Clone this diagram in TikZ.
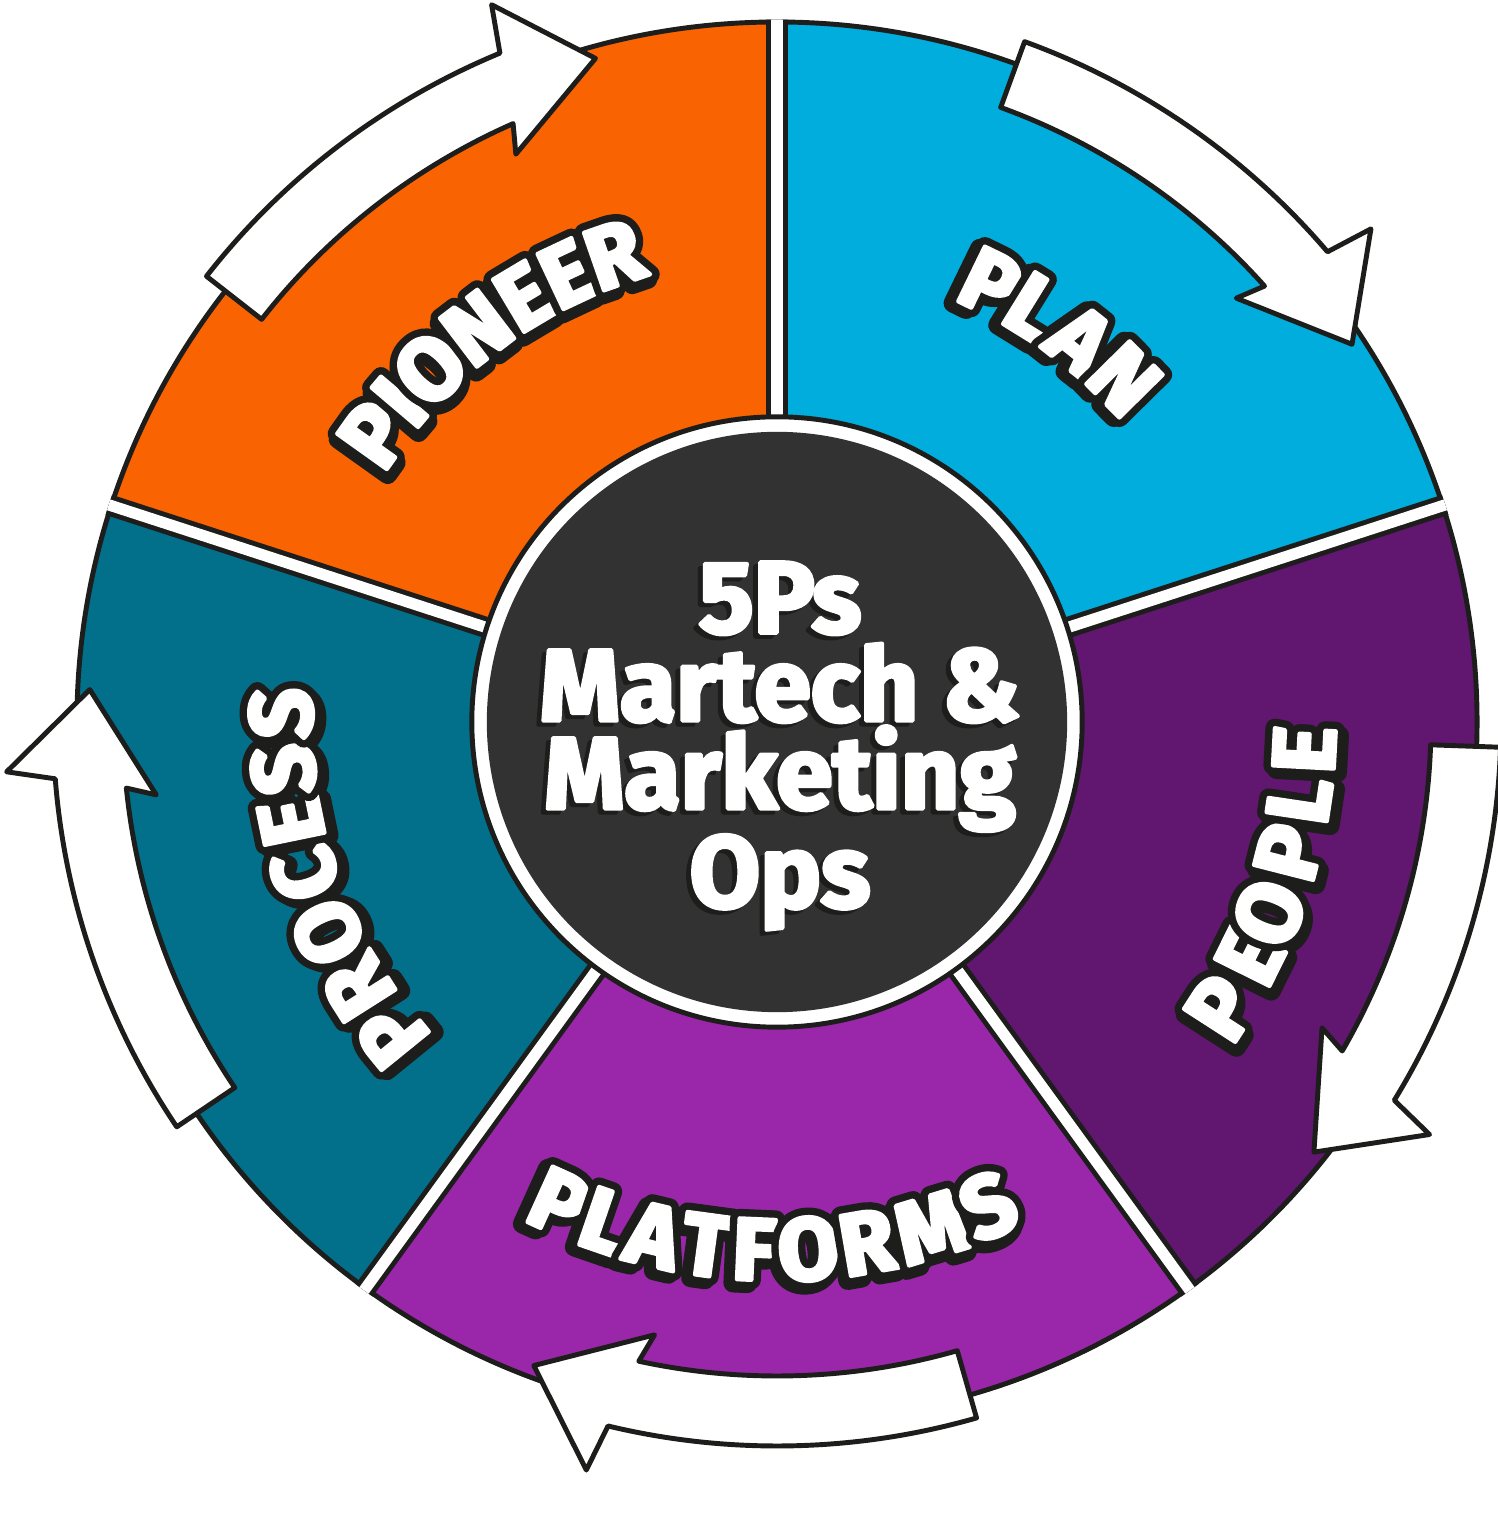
\documentclass[tikz,border=0pt]{standalone}
\usepackage{fontspec}
\setmainfont{Fira Sans}
\newfontfamily\heavyfont{Fira Sans Bold}

\definecolor{ink}{HTML}{1D1D1B}
\definecolor{segorange}{HTML}{F96302}
\definecolor{segblue}{HTML}{00ADDC}
\definecolor{segpeople}{HTML}{611670}
\definecolor{segplatform}{HTML}{9A27A9}
\definecolor{segteal}{HTML}{026F8B}
\definecolor{hubgrey}{HTML}{323232}

\newcommand{\labelfont}{\heavyfont\fontsize{25}{25}\selectfont}
\newcommand{\titlefont}{\heavyfont\fontsize{29}{25}\selectfont}

% stroked letters: ink rim, white thickening, back to plain
\newcommand{\inkstroke}[1]{\special{pdf:literal direct 2 Tr 1 j #1 w 0.114 0.114 0.106 RG}}
\newcommand{\whitestroke}[1]{\special{pdf:literal direct 2 Tr 1 j #1 w 1 1 1 RG}}
\newcommand{\nostroke}{\special{pdf:literal direct 0 Tr}}
\newcommand{\outlined}[1]{\rlap{\inkstroke{5.4}#1\nostroke}\whitestroke{1.2}#1\nostroke}
\newcommand{\shadowed}[1]{\inkstroke{5.4}#1\nostroke}
\newcommand{\thick}[1]{\whitestroke{1.1}#1\nostroke}
\newcommand{\thickink}[1]{\inkstroke{1.1}#1\nostroke}

% one white arrow round the rim, #1 = angle of its tail
\newcommand{\cyclearrow}[1]{%
  \draw[cycle arrow] ({#1}:724) arc[start angle={#1}, end angle={#1-29.5}, radius=724]
    -- ({#1-30.3}:772) -- ({#1-36.7}:688) -- ({#1-27.3}:625) -- ({#1-28.2}:654)
    arc[start angle={#1-28.2}, end angle={#1}, radius=654] -- cycle;
}

% letters set round the hub: #1 name, #2 radius, #3 turn of the letters, #4 letter/angle list
\newcommand{\arcword}[4]{%
  \foreach \lt/\ang in {#4}
    \node[label shadow, rotate={\ang+#3}, xshift=-1.1pt, yshift=-1.1pt] at ({\ang}:#2) {\shadowed{\lt}};
  \foreach \lt/\ang [count=\i] in {#4}
    \node[label text, rotate={\ang+#3}] (#1-\i) at ({\ang}:#2) {\outlined{\lt}};
}

\begin{document}
\begin{tikzpicture}[x=0.01cm, y=0.01cm,
  segment/.style={draw=ink, line width=1.4pt, line join=round},
  cycle arrow/.style={draw=ink, fill=white, line width=1.4pt, line join=round},
  label text/.style={text=white, font=\labelfont, inner sep=0pt},
  label shadow/.style={text=ink, font=\labelfont, inner sep=0pt},
  title text/.style={text=white, font=\titlefont, align=center, inner sep=0pt},
  title shadow/.style={text=ink, font=\titlefont, align=center, inner sep=0pt}]
\useasboundingbox (-777,-791) rectangle (720,722);

% five segments
\foreach \col/\a in {segblue/18, segorange/90, segteal/162, segplatform/234, segpeople/306}
  \draw[segment, fill=\col] (0,0) -- (\a:700) arc[start angle=\a, end angle=\a+72, radius=700] -- cycle;

% gaps between the segments
\begin{scope}
\clip (0,0) circle (702.5);
\foreach \a in {18,90,...,306} {
  \draw[ink, line width=6pt] (0,0) -- (\a:720);
  \draw[white, line width=3.2pt] (0,0) -- (\a:720);
}
\end{scope}

% hub
\node[circle, draw=ink, line width=1.4pt, fill=white, minimum size=6.1cm, inner sep=0pt] (ring) at (0,0) {};
\node[circle, fill=hubgrey, minimum size=5.8cm, inner sep=0pt] (hub) at (0,0) {};
\node[title shadow] at (-2,-28) {\thickink{5Ps}\\\thickink{Martech \&}\\\thickink{Marketing}\\\thickink{Ops}};
\node[title text] (title) at (3,-24) {\thick{5Ps}\\\thick{Martech \&}\\\thick{Marketing}\\\thick{Ops}};

% segment labels
\arcword{pioneer}{495}{-90}{P/144.5, I/139.7, O/134.5, N/127.3, E/120.8, E/115.2, R/109.2}
\arcword{plan}{488}{-90}{P/64.1, L/58.3, A/51.6, N/44.6}
\arcword{people}{528}{90}{P/-32.8, E/-26.4, O/-21.2, P/-14.3, L/-8.5, E/-3.0}
\arcword{platforms}{528}{90}{P/-114.4, L/-109.0, A/-103.5, T/-97.7, F/-92.5, O/-86.6, R/-80.2, M/-73.1, S/-66.4}
\arcword{process}{496}{-90}{P/219.1, R/212.4, O/205.1, C/197.8, E/191.6, S/185.5, S/179.0}

% arrows round the rim
\cyclearrow{142}
\cyclearrow{70}
\cyclearrow{-2}
\cyclearrow{-74}
\cyclearrow{214}
\end{tikzpicture}
\end{document}
